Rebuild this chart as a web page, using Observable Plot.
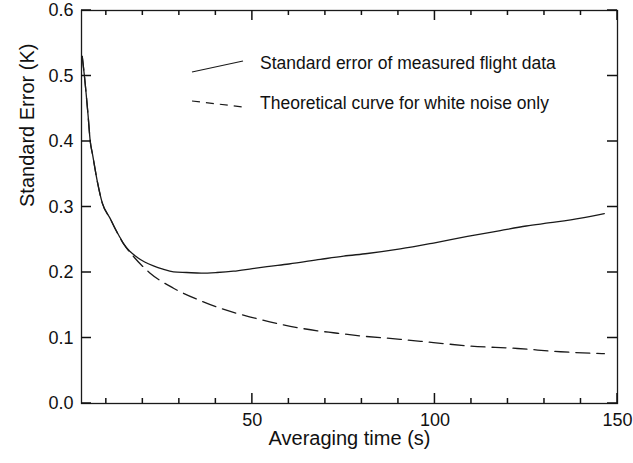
<!DOCTYPE html>
<html>
<head>
<meta charset="utf-8">
<script src="https://cdn.jsdelivr.net/npm/d3@7"></script>
<script src="https://cdn.jsdelivr.net/npm/@observablehq/plot@0.6"></script>
<style>
  html, body { margin: 0; padding: 0; background: white; }
  #chart { width: 633px; height: 463px; }
</style>
</head>
<body>
<div id="chart"></div>
<script>
// ---- Data ----
const measuredTime = [3.4, 4.0, 5.0, 5.6, 6.2, 7.5, 8.9, 11, 12.5, 13.8, 14.7, 16.5, 18.5, 20.5, 22.9, 25.5, 28.4, 32, 36, 40.3, 44.8, 50, 54, 60, 68.6, 75, 81.5, 90.5, 99.6, 108.9, 117.9, 125, 131.6, 140, 146.4];
const measuredSE   = [0.530, 0.500, 0.440, 0.400, 0.381, 0.340, 0.306, 0.283, 0.266, 0.253, 0.244, 0.232, 0.223, 0.216, 0.210, 0.205, 0.201, 0.200, 0.199, 0.200, 0.202, 0.206, 0.209, 0.213, 0.220, 0.225, 0.229, 0.236, 0.245, 0.255, 0.264, 0.271, 0.276, 0.283, 0.290];

const theoryTime = [3.4, 4.0, 5.0, 5.6, 6.2, 7.5, 8.9, 11, 12.5, 14.7, 17.5, 22, 28.4, 35.8, 40.4, 49.5, 58.5, 67.8, 72.2, 80, 90.5, 99.6, 108.9, 122.6, 134.4, 146.4];
const theorySE   = [0.530, 0.500, 0.440, 0.400, 0.381, 0.340, 0.306, 0.283, 0.266, 0.244, 0.224, 0.199, 0.176, 0.157, 0.147, 0.132, 0.120, 0.111, 0.108, 0.103, 0.098, 0.093, 0.088, 0.084, 0.079, 0.076];

const xMajorTicks = [50, 100, 150];
const xMinorTicks = [10, 20, 30, 40, 60, 70, 80, 90, 110, 120, 130, 140];
const yTicks = [0, 0.1, 0.2, 0.3, 0.4, 0.5, 0.6];

const xLabel = "Averaging time (s)";
const yLabel = "Standard Error (K)";
const legendLabels = ["Standard error of measured flight data", "Theoretical curve for white noise only"];

// ---- Build tables ----
const measured = measuredTime.map((t, i) => ({t, se: measuredSE[i]}));
const theory = theoryTime.map((t, i) => ({t, se: theorySE[i]}));

const W = 633, H = 463;
const mT = 10, mR = 16, mB = 60, mL = 81;
const ink = "#1a1a1a";
const font = "'Liberation Sans', Arial, Helvetica, sans-serif";

const chart = Plot.plot({
  width: W, height: H,
  marginTop: mT, marginRight: mR, marginBottom: mB, marginLeft: mL,
  style: {fontFamily: font, fontSize: "18px", color: "#111", background: "white"},
  x: {domain: [3.2, 150]},
  y: {domain: [0, 0.6]},
  marks: [
    Plot.frame({stroke: ink, strokeWidth: 1.3}),
    Plot.axisX({ticks: xMajorTicks, tickSize: 0, tickPadding: 10, tickFormat: d => String(d), label: null, fontSize: 18}),
    Plot.axisY({ticks: yTicks, tickSize: 0, tickPadding: 8, tickFormat: d3.format(".1f"), label: null, fontSize: 18}),
    Plot.text([xLabel], {text: d => d, frameAnchor: "bottom", dy: 41, fontSize: 20, fill: "#111"}),
    Plot.text([yLabel], {text: d => d, frameAnchor: "left", dx: -54, rotate: -90, fontSize: 20, fill: "#111"}),
    Plot.line(theory, {x: "t", y: "se", stroke: ink, strokeWidth: 1.3, strokeDasharray: "14,7", curve: "monotone-x"}),
    Plot.line(measured, {x: "t", y: "se", stroke: ink, strokeWidth: 1.3, curve: "monotone-x"})
  ]
});
document.getElementById("chart").appendChild(chart);

// ---- Inward tick marks on all four sides, placed with Plot's own scales ----
const sx = chart.scale("x"), sy = chart.scale("y");
const X = d3.scaleLinear(sx.domain, sx.range);
const Y = d3.scaleLinear(sy.domain, sy.range);
const fx0 = X(sx.domain[0]), fx1 = X(sx.domain[1]);
const fyB = Y(sy.domain[0]), fyT = Y(sy.domain[1]);
const svg = d3.select(chart);
const tg = svg.append("g").attr("stroke", "#111").attr("stroke-width", 1.5);
const addTick = (x1, y1, x2, y2) => tg.append("line").attr("x1", x1).attr("y1", y1).attr("x2", x2).attr("y2", y2);
xMinorTicks.forEach(v => { const x = X(v); addTick(x, fyB, x, fyB - 5); addTick(x, fyT, x, fyT + 5); });
xMajorTicks.forEach(v => { const x = X(v); addTick(x, fyB, x, fyB - 10); addTick(x, fyT, x, fyT + 10); });
yTicks.forEach(v => { const y = Y(v); addTick(fx0, y, fx0 + 10, y); addTick(fx1, y, fx1 - 10, y); });

// ---- Legend inside the plot area ----
const lg = svg.append("g").attr("font-family", font).attr("font-size", 17.5).attr("fill", "#111").attr("text-anchor", "start");
const legendSample = [
  {x1: 192, y1: 72, x2: 243, y2: 61, dash: null},
  {x1: 192, y1: 101, x2: 243, y2: 107, dash: "8,6"}
];
const legendBaseline = [69, 109];
legendLabels.forEach((lab, i) => {
  const s = legendSample[i];
  const ln = lg.append("line").attr("x1", s.x1).attr("y1", s.y1).attr("x2", s.x2).attr("y2", s.y2).attr("stroke", ink).attr("stroke-width", 1.2);
  if (s.dash) ln.attr("stroke-dasharray", s.dash);
  lg.append("text").attr("x", 260).attr("y", legendBaseline[i]).attr("text-anchor", "start").text(lab);
});
</script>
</body>
</html>
